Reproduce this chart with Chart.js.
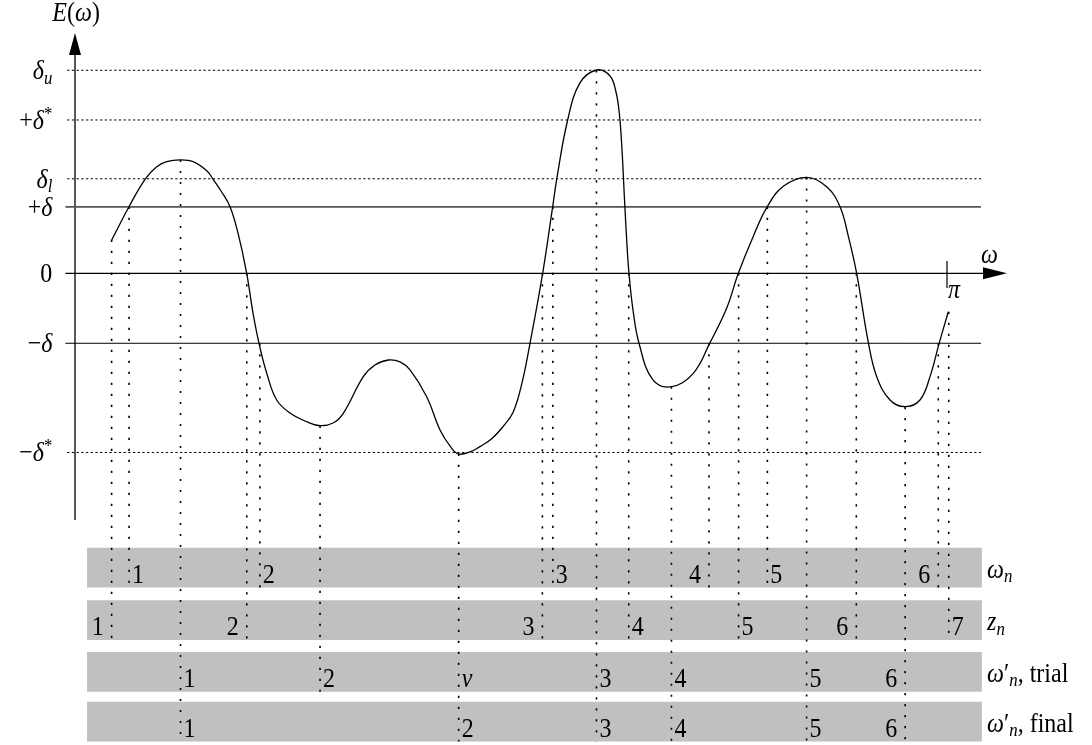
<!DOCTYPE html>
<html>
<head>
<meta charset="utf-8">
<script src="https://cdn.jsdelivr.net/npm/chart.js@4.4.0/dist/chart.umd.min.js"></script>
<style>
  html, body { margin: 0; padding: 0; background: #fff; }
  #wrap { width: 1092px; height: 745px; }
</style>
</head>
<body>
<div id="wrap"><canvas id="errChart"></canvas></div>
<script>
// x: omega in units of pi, y: E(omega) in units of delta
var curveOmega = [0.0421,0.0619,0.0803,0.0937,0.1052,0.1204,0.1353,0.1514,0.1583,0.1682,
                  0.1778,0.1869,0.1969,0.2041,0.2110,0.2198,0.2313,0.2466,0.2657,0.2810,
                  0.2959,0.3077,0.3306,0.3440,0.3593,0.3727,0.3842,0.4033,0.4186,0.4300,
                  0.4396,0.4530,0.4644,0.4782,0.4908,0.5023,0.5126,0.5218,0.5363,0.5478,0.5524,
                  0.5650,0.5791,0.5983,0.6135,0.6204,0.6244,0.6273,0.6302,0.6330,0.6353,
                  0.6399,0.6468,0.6628,0.6843,0.7091,0.7282,0.7474,0.7607,0.7779,0.7939,
                  0.8123,0.8391,0.8620,0.8773,0.8865,0.8964,0.9098,0.9194,0.9346,0.9518,
                  0.9690,0.9805,0.9912,1.0015];
var curveE = [0.476,0.951,1.343,1.523,1.594,1.619,1.594,1.461,1.343,1.161,
              0.951,0.576,0,-0.567,-1.000,-1.424,-1.810,-1.996,-2.120,-2.177,
              -2.139,-2.000,-1.477,-1.310,-1.239,-1.267,-1.381,-1.763,-2.239,-2.467,
              -2.581,-2.553,-2.477,-2.360,-2.191,-1.990,-1.567,-1.000,0,0.951,1.343,
              2.190,2.719,2.904,2.819,2.590,2.261,1.761,1.047,0.404,0,
              -0.524,-1.000,-1.524,-1.620,-1.429,-0.991,-0.496,0,0.530,0.951,
              1.243,1.371,1.237,0.951,0.547,0,-0.991,-1.477,-1.810,-1.906,
              -1.810,-1.477,-0.991,-0.549];

// horizontal levels
var levelLabels = ['δ_u', '+δ^*', 'δ_l', '+δ', '0', '−δ', '−δ^*'];
var levelE = [2.90, 2.19, 1.35, 0.95, 0, -1.00, -2.56];

// rows of marks below the plot
var rowNames = ['ω_n', 'z_n', 'ω′_n{, trial}', 'ω′_n{, final}'];

var omegaNW = [0.062, 0.212, 0.548, 0.727, 0.794, 0.990];
var omegaNE = [0.95, -1.00, 0.95, -1.00, 0.95, -1.00];
var omegaNLab = ['1', '2', '3', '4', '5', '6'];

var zNW = [0.042, 0.197, 0.536, 0.635, 0.761, 0.896, 1.002];
var zNE = [0.48, 0, 0, 0, 0, 0, -0.55];
var zNLab = ['1', '2', '3', '4', '5', '6', '7'];

var trialW = [0.121, 0.281, 0.440, 0.598, 0.684, 0.839, 0.952];
var trialE = [1.62, -2.18, -2.58, 2.90, -1.62, 1.37, -1.91];
var trialLab = ['1', '2', 'ν', '3', '4', '5', '6'];

var finalW = [0.121, 0.440, 0.598, 0.684, 0.839, 0.952];
var finalE = [1.62, -2.58, 2.90, -1.62, 1.37, -1.91];
var finalLab = ['1', '2', '3', '4', '5', '6'];

// ---- layout / style ----
var rows = [
  { w: omegaNW, e: omegaNE, lab: omegaNLab, side: ['r','r','r','l','r','l'] },
  { w: zNW, e: zNE, lab: zNLab, side: ['l','l','l','r','r','l','r'] },
  { w: trialW, e: trialE, lab: trialLab, side: ['r','r','r','r','r','r','l'] },
  { w: finalW, e: finalE, lab: finalLab, side: ['r','r','r','r','r','l'] }
];
var bandTop = [-3.92, -4.67, -5.41, -6.12];
var bandH = 0.57;
var bandW0 = 0.0138, bandW1 = 1.040;
var lineW0 = -0.009, lineW1 = 1.039;
var levelStyle = ['dot', 'dot', 'dot', 'grey', 'axis', 'solid', 'dot'];

var FONT = '"Liberation Serif", "Times New Roman", serif';
var FS = 24, SY = 1.15;

function parseMath(s) {
  var parts = [], i = 0;
  while (i < s.length) {
    var ch = s[i];
    if (ch === '{') {
      var j = s.indexOf('}', i);
      parts.push({ t: s.slice(i + 1, j), i: false });
      i = j + 1;
    } else if (ch === '_' || ch === '^') {
      var c = s[i + 1];
      parts.push({ t: c, i: /[a-zA-Zα-ω]/.test(c), sub: ch === '_', sup: ch === '^' });
      i += 2;
    } else {
      parts.push({ t: ch, i: /[a-zA-Zα-ω]/.test(ch) });
      i++;
    }
  }
  return parts;
}

function drawMath(ctx, s, x, y, align) {
  var parts = parseMath(s);
  function fontOf(p) {
    var size = (p.sub || p.sup) ? FS * 0.7 : FS;
    return (p.i ? 'italic ' : '') + size + 'px ' + FONT;
  }
  var total = 0;
  parts.forEach(function (p) { ctx.font = fontOf(p); p.w = ctx.measureText(p.t).width; total += p.w; });
  var cx = align === 'right' ? x - total : x;
  ctx.save();
  ctx.translate(0, y);
  ctx.scale(1, SY);
  ctx.fillStyle = '#000';
  ctx.textAlign = 'left';
  ctx.textBaseline = 'alphabetic';
  parts.forEach(function (p) {
    ctx.font = fontOf(p);
    var dy = p.sub ? 4 : (p.sup ? -8 : 0);
    ctx.fillText(p.t, cx, dy);
    cx += p.w;
  });
  ctx.restore();
}

var datasets = [];

datasets.push({
  data: curveOmega.map(function (w, k) { return { x: w, y: curveE[k] }; }),
  borderColor: '#000', borderWidth: 1.3, tension: 0.4
});

// dotted verticals: one per distinct omega, down to the deepest row that uses it
var drops = {};
rows.forEach(function (r, ri) {
  r.w.forEach(function (w, k) {
    var key = w.toFixed(3);
    if (!drops[key] || drops[key].row < ri) drops[key] = { w: w, e: r.e[k], row: ri };
  });
});
Object.keys(drops).forEach(function (key) {
  var d = drops[key];
  datasets.push({
    data: [{ x: d.w, y: d.e }, { x: d.w, y: bandTop[d.row] - bandH }],
    borderColor: '#000', borderWidth: 1.6, borderDash: [2.2, 8.8]
  });
});

levelE.forEach(function (e, k) {
  var st = levelStyle[k];
  var ds = {
    data: [{ x: st === 'dot' ? lineW0 : lineW0 - 0.002, y: e }, { x: st === 'axis' ? 1.045 : lineW1, y: e }],
    borderColor: '#000', borderWidth: 1
  };
  if (st === 'dot') { ds.borderDash = [2.3, 2.4]; }
  if (st === 'grey') { ds.borderColor = '#555'; ds.borderWidth = 1.8; }
  if (st === 'axis') { ds.borderWidth = 1.2; }
  datasets.push(ds);
});

// vertical axis and the pi tick
datasets.push({ data: [{ x: 0, y: -3.524 }, { x: 0, y: 3.2 }], borderColor: '#000', borderWidth: 1.3 });
datasets.push({ data: [{ x: 1.0, y: 0.176 }, { x: 1.0, y: -0.21 }], borderColor: '#000', borderWidth: 1.2 });

// grey bands (last = drawn first)
bandTop.forEach(function (t) {
  datasets.push({
    data: [{ x: bandW0, y: t }, { x: bandW1, y: t }],
    borderWidth: 0, borderColor: 'rgba(0,0,0,0)',
    backgroundColor: '#c0c0c0', fill: { value: t - bandH }
  });
});

datasets.forEach(function (d) { d.showLine = true; d.pointRadius = 0; d.pointHoverRadius = 0; });

var textPlugin = {
  id: 'mathText',
  afterDatasetsDraw: function (chart) {
    var ctx = chart.ctx, xs = chart.scales.x, ys = chart.scales.y;
    var X = function (v) { return xs.getPixelForValue(v); };
    var Y = function (v) { return ys.getPixelForValue(v); };

    // arrow heads
    ctx.save();
    ctx.fillStyle = '#000';
    ctx.beginPath();
    ctx.moveTo(X(0), Y(3.433));
    ctx.lineTo(X(0) - 6, Y(3.119));
    ctx.lineTo(X(0) + 6, Y(3.119));
    ctx.closePath();
    ctx.fill();
    ctx.beginPath();
    ctx.moveTo(X(1.0688), Y(0));
    ctx.lineTo(X(1.0413), Y(0) - 6);
    ctx.lineTo(X(1.0413), Y(0) + 6);
    ctx.closePath();
    ctx.fill();
    ctx.restore();

    // axis names
    drawMath(ctx, 'E(ω)', X(-0.026), Y(3.60), 'left');
    drawMath(ctx, 'ω', X(1.039), Y(0.147), 'left');
    drawMath(ctx, 'π', X(1.001), Y(-0.35), 'left');

    // level names
    levelLabels.forEach(function (s, k) {
      drawMath(ctx, s, X(-0.026), Y(levelE[k]) + 9, 'right');
    });

    // row marks and row names
    rows.forEach(function (r, ri) {
      var base = Y(bandTop[ri] - bandH);
      r.w.forEach(function (w, k) {
        if (r.side[k] === 'r') drawMath(ctx, r.lab[k], X(w) + 3, base - 5, 'left');
        else drawMath(ctx, r.lab[k], X(w) - 8, base - 5, 'right');
      });
      drawMath(ctx, rowNames[ri], X(1.046), base - 10, 'left');
    });
  }
};

new Chart(document.getElementById('errChart'), {
  type: 'scatter',
  data: { datasets: datasets },
  options: {
    responsive: true,
    maintainAspectRatio: false,
    animation: false,
    layout: { padding: 0 },
    plugins: { legend: { display: false }, tooltip: { enabled: false } },
    scales: {
      x: { type: 'linear', display: false, min: -0.08601, max: 1.16628 },
      y: { type: 'linear', display: false, min: -6.739, max: 3.904 }
    }
  },
  plugins: [textPlugin]
});
</script>
</body>
</html>
